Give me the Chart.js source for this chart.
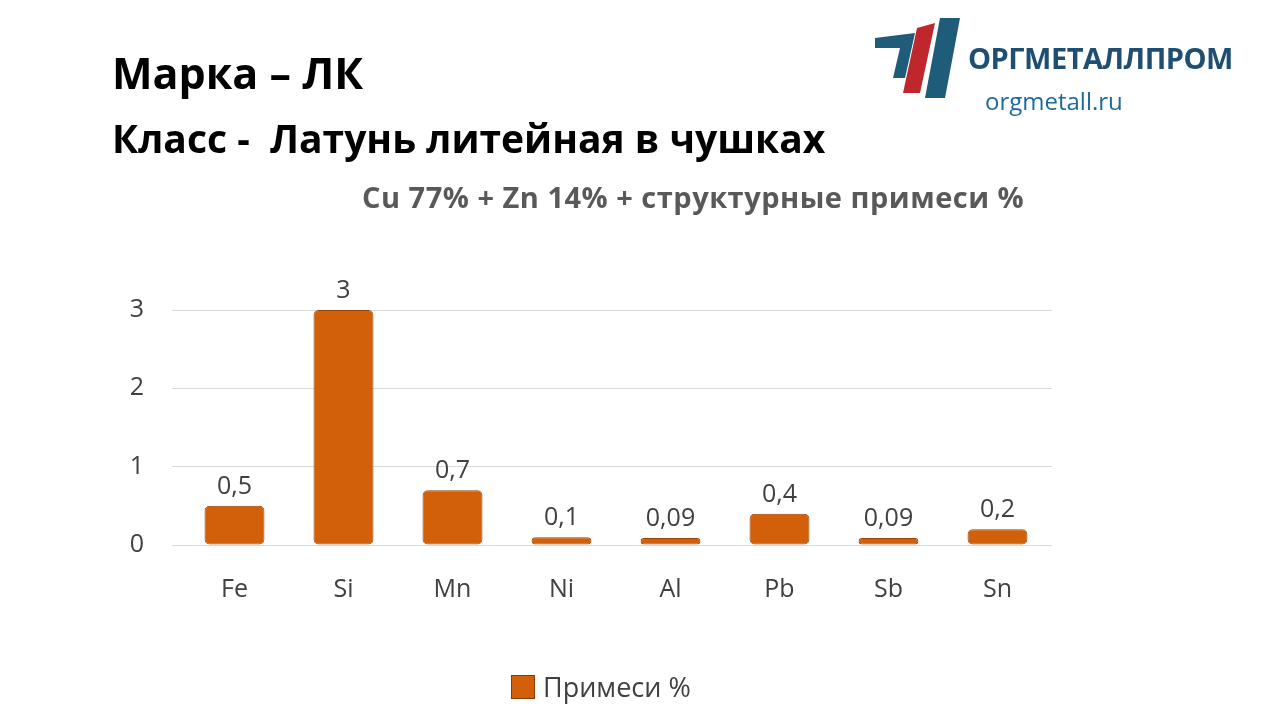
<!DOCTYPE html>
<html><head><meta charset="utf-8">
<script src="https://cdn.jsdelivr.net/npm/chart.js@4"></script>
<style>
body{margin:0;width:1280px;height:720px;background:#fff;font-family:"Open Sans",sans-serif;position:relative;overflow:hidden}
.t{position:absolute;font-weight:bold;color:#000;white-space:nowrap}
#c{position:absolute;left:0;top:0}
</style></head><body>
<canvas id="c" width="1280" height="720"></canvas>
<div class="t" style="left:112px;top:43px;font-size:43px">Марка – ЛК</div>
<div class="t" style="left:112px;top:111px;font-size:39px">Класс -&nbsp; Латунь литейная в чушках</div>
<div class="t" style="left:362px;top:177px;font-size:29px;color:#595959;letter-spacing:0.5px">Cu 77% + Zn 14% + структурные примеси %</div>
<svg style="position:absolute;left:875px;top:18px" width="90" height="80"><polygon points="0,20 40,15 30,60 18,60 25,30 0,30" fill="#1e5c7a"/><polygon points="42,10 60,5 45,75 28,75" fill="#c0272d"/><polygon points="65,0 85,0 70,80 50,80" fill="#1e5c7a"/></svg>
<div class="t" style="left:968px;top:38px;font-size:29px;color:#1e4f73;letter-spacing:-0.5px">ОРГМЕТАЛЛПРОМ</div>
<div class="t" style="left:985px;top:84px;font-size:24px;font-weight:normal;color:#1e6a9a">orgmetall.ru</div>
<div style="position:absolute;left:511px;top:668px;font-size:27px;color:#404040"><span style="display:inline-block;width:22px;height:22px;background:#d2600a;border:1px solid #8a3a00;vertical-align:-2px;margin-right:8px"></span>Примеси %</div>
<script>
const categories=["Fe","Si","Mn","Ni","Al","Pb","Sb","Sn"];
const values=[0.5,3,0.7,0.1,0.09,0.4,0.09,0.2];
const labels=["0,5","3","0,7","0,1","0,09","0,4","0,09","0,2"];
const ticks=[0,1,2,3];
const dl={id:'dl',afterDatasetsDraw(ch){const c=ch.ctx;c.save();c.font='25px "Open Sans", sans-serif';c.fillStyle='#404040';c.textAlign='center';
ch.getDatasetMeta(0).data.forEach((b,i)=>c.fillText(labels[i],b.x,b.y-12));c.restore();}};
new Chart(document.getElementById('c'),{type:'bar',
data:{labels:categories,datasets:[{data:values,backgroundColor:'#d2600a',borderColor:'#9a4200',borderWidth:1,borderRadius:5,borderSkipped:false,barPercentage:0.55,categoryPercentage:1}]},
options:{responsive:false,animation:false,layout:{padding:{left:118,top:310,right:228,bottom:93}},
plugins:{legend:{display:false},tooltip:{enabled:false}},
scales:{y:{min:0,max:3,afterBuildTicks(a){a.ticks=ticks.map(v=>({value:v}))},afterFit(a){a.width=62},ticks:{font:{size:25,family:'"Open Sans"'},color:'#404040',padding:28},grid:{color:'#d9d9d9'},border:{display:false}},
x:{ticks:{font:{size:25,family:'"Open Sans"'},color:'#404040',padding:22},grid:{display:false},border:{display:false}}}},
plugins:[dl]});
</script>
</body></html>
